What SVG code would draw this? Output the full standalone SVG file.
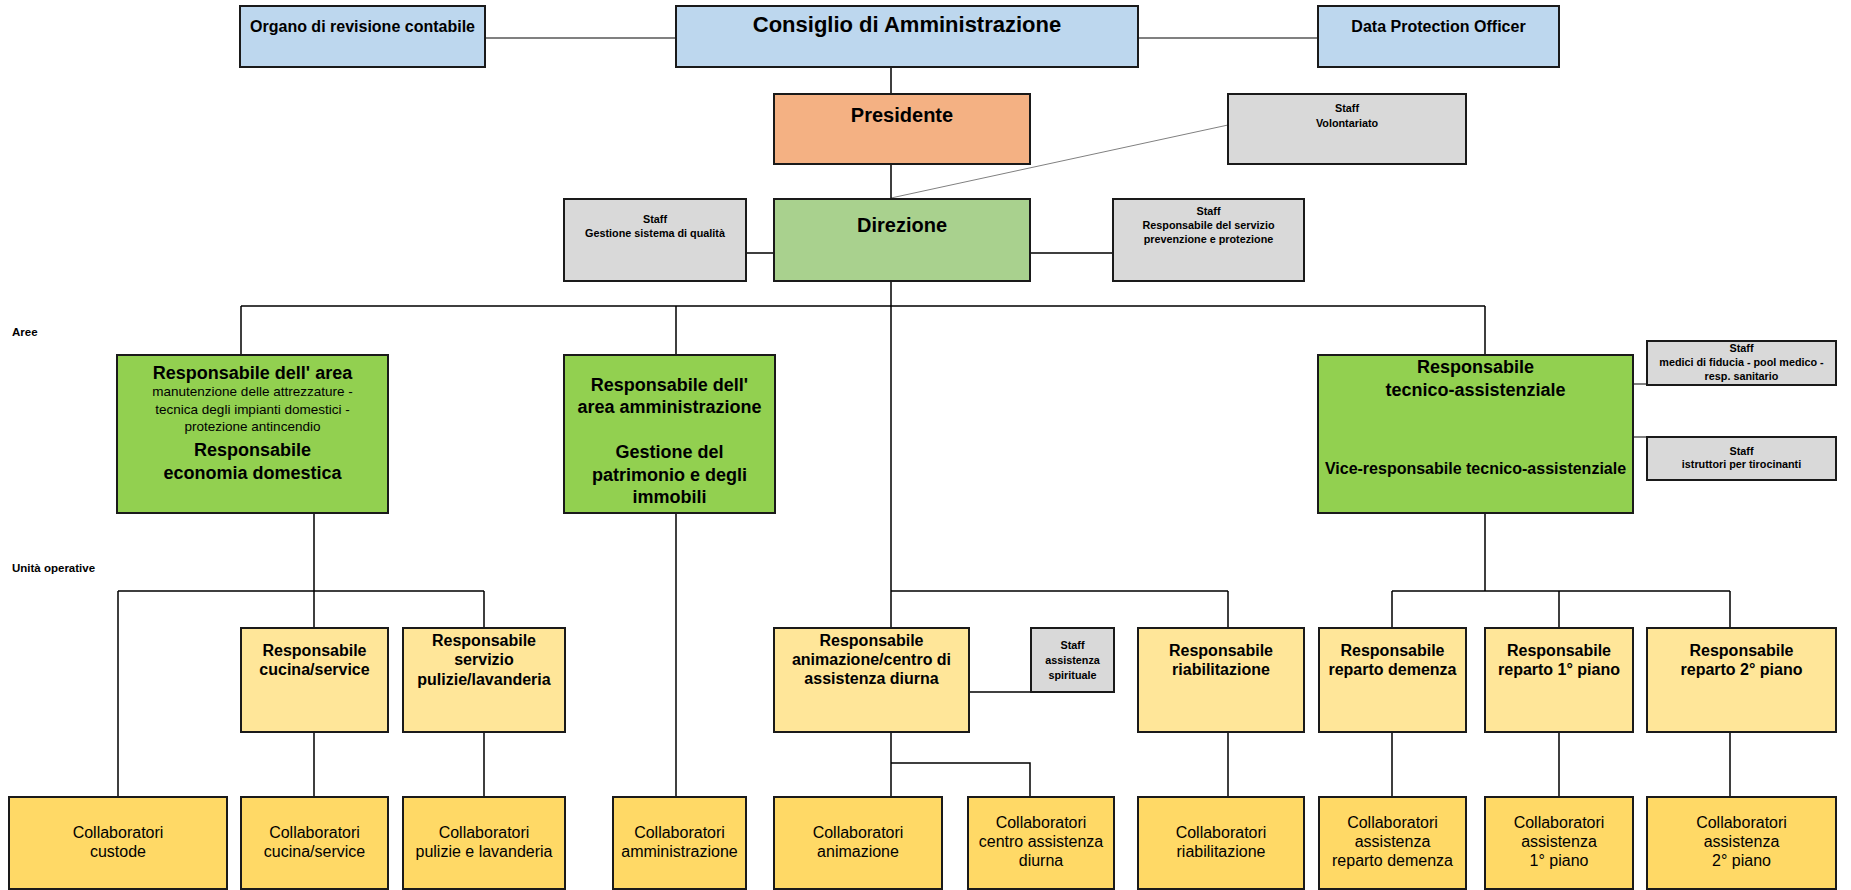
<svg xmlns="http://www.w3.org/2000/svg" width="1851" height="890" viewBox="0 0 1851 890">
<style>
text{font-family:"Liberation Sans",Arial,sans-serif;fill:#000;text-anchor:middle}
.b{font-weight:bold}
.box{stroke:#1a1a1a;stroke-width:2}
.blue{fill:#BDD7EE}.peach{fill:#F4B183}.lgreen{fill:#A9D18E}.green{fill:#92D050}.gray{fill:#D9D9D9}.ly{fill:#FFE699}.y{fill:#FFD966}
.ln{stroke:#000;stroke-width:1.5;fill:none}
.gl{stroke:#808080;stroke-width:2;fill:none}
.tl{stroke:#808080;stroke-width:1;fill:none}
.t22{font-size:22px}.t20{font-size:20px}.t18{font-size:18px}.t16{font-size:16px}.t13{font-size:13.5px}.t11{font-size:10.8px}
.lab{font-size:11.5px;font-weight:bold;text-anchor:start}
</style>
<rect width="1851" height="890" fill="#fff"/>
<g id="connectors">
<path class="gl" d="M485 38H676M1138 38H1318"/>
<path class="tl" d="M891 198L1228 125"/>
<path class="ln" d="M891 67V94M891 164V199M746 253H774M1030 253H1113M891 281V628"/>
<path class="ln" d="M241 306H1485M241 306V355M676 306V355M1485 306V355"/>
<path class="gl" d="M1633 384H1647M1633 437H1647"/>
<path class="ln" d="M314 513V591M118 591H484M118 591V797M314 591V628M484 591V628"/>
<path class="ln" d="M676 513V797"/>
<path class="ln" d="M891 591H1228M1228 591V628"/>
<path class="ln" d="M1485 513V591M1392 591H1730M1392 591V628M1559 591V628M1730 591V628"/>
<path class="ln" d="M969 692H1031"/>
<path class="ln" d="M314 732V797M484 732V797M891 732V797M891 763H1030V797M1228 732V797M1392 732V797M1559 732V797M1730 732V797"/>
</g>
<g id="labels">
<text class="lab" x="12" y="336">Aree</text>
<text class="lab" x="12" y="572">Unità operative</text>
</g>
<g id="organo"><rect class="box blue" x="240" y="6" width="245" height="61"/><text class="b t16" x="362.5" y="32">Organo di revisione contabile</text></g>
<g id="consiglio"><rect class="box blue" x="676" y="6" width="462" height="61"/><text class="b t22" x="907" y="32">Consiglio di Amministrazione</text></g>
<g id="dpo"><rect class="box blue" x="1318" y="6" width="241" height="61"/><text class="b t16" x="1438.5" y="32">Data Protection Officer</text></g>
<g id="presidente"><rect class="box peach" x="774" y="94" width="256" height="70"/><text class="b t20" x="902" y="122">Presidente</text></g>
<g id="volontariato"><rect class="box gray" x="1228" y="94" width="238" height="70"/><text class="b t11" x="1347" y="112">Staff</text><text class="b t11" x="1347" y="127">Volontariato</text></g>
<g id="direzione"><rect class="box lgreen" x="774" y="199" width="256" height="82"/><text class="b t20" x="902" y="232">Direzione</text></g>
<g id="qualita"><rect class="box gray" x="564" y="199" width="182" height="82"/><text class="b t11" x="655" y="223">Staff</text><text class="b t11" x="655" y="237">Gestione sistema di qualità</text></g>
<g id="rspp"><rect class="box gray" x="1113" y="199" width="191" height="82"/><text class="b t11" x="1208.5" y="215">Staff</text><text class="b t11" x="1208.5" y="229">Responsabile del servizio</text><text class="b t11" x="1208.5" y="243">prevenzione e protezione</text></g>
<g id="area-economia"><rect class="box green" x="117" y="355" width="271" height="158"/>
<text class="b t18" x="252.5" y="379">Responsabile dell' area</text>
<text class="t13" x="252.5" y="396">manutenzione delle attrezzature -</text>
<text class="t13" x="252.5" y="413.5">tecnica degli impianti domestici -</text>
<text class="t13" x="252.5" y="431">protezione antincendio</text>
<text class="b t18" x="252.5" y="456">Responsabile</text>
<text class="b t18" x="252.5" y="479">economia domestica</text></g>
<g id="area-amministrazione"><rect class="box green" x="564" y="355" width="211" height="158"/>
<text class="b t18" x="669.5" y="391">Responsabile dell'</text>
<text class="b t18" x="669.5" y="413">area amministrazione</text>
<text class="b t18" x="669.5" y="458">Gestione del</text>
<text class="b t18" x="669.5" y="481">patrimonio e degli</text>
<text class="b t18" x="669.5" y="503">immobili</text></g>
<g id="area-tecnico"><rect class="box green" x="1318" y="355" width="315" height="158"/>
<text class="b t18" x="1475.5" y="373">Responsabile</text>
<text class="b t18" x="1475.5" y="396">tecnico-assistenziale</text>
<text class="b t16" x="1475.5" y="474">Vice-responsabile tecnico-assistenziale</text></g>
<g id="medici"><rect class="box gray" x="1647" y="341" width="189" height="44"/><text class="b t11" x="1741.5" y="352">Staff</text><text class="b t11" x="1741.5" y="366">medici di fiducia - pool medico -</text><text class="b t11" x="1741.5" y="380">resp. sanitario</text></g>
<g id="istruttori"><rect class="box gray" x="1647" y="437" width="189" height="43"/><text class="b t11" x="1741.5" y="455">Staff</text><text class="b t11" x="1741.5" y="468">istruttori per tirocinanti</text></g>
<g id="resp-cucina"><rect class="box ly" x="241" y="628" width="147" height="104"/><text class="b t16" x="314.5" y="656">Responsabile</text><text class="b t16" x="314.5" y="675">cucina/service</text></g>
<g id="resp-pulizie"><rect class="box ly" x="403" y="628" width="162" height="104"/><text class="b t16" x="484" y="646">Responsabile</text><text class="b t16" x="484" y="665">servizio</text><text class="b t16" x="484" y="685">pulizie/lavanderia</text></g>
<g id="resp-animazione"><rect class="box ly" x="774" y="628" width="195" height="104"/><text class="b t16" x="871.5" y="646">Responsabile</text><text class="b t16" x="871.5" y="665">animazione/centro di</text><text class="b t16" x="871.5" y="684">assistenza diurna</text></g>
<g id="spirituale"><rect class="box gray" x="1031" y="628" width="83" height="64"/><text class="b t11" x="1072.5" y="649">Staff</text><text class="b t11" x="1072.5" y="664">assistenza</text><text class="b t11" x="1072.5" y="679">spirituale</text></g>
<g id="resp-riabilitazione"><rect class="box ly" x="1138" y="628" width="166" height="104"/><text class="b t16" x="1221" y="656">Responsabile</text><text class="b t16" x="1221" y="675">riabilitazione</text></g>
<g id="resp-demenza"><rect class="box ly" x="1319" y="628" width="147" height="104"/><text class="b t16" x="1392.5" y="656">Responsabile</text><text class="b t16" x="1392.5" y="675">reparto demenza</text></g>
<g id="resp-piano1"><rect class="box ly" x="1485" y="628" width="148" height="104"/><text class="b t16" x="1559" y="656">Responsabile</text><text class="b t16" x="1559" y="675">reparto 1° piano</text></g>
<g id="resp-piano2"><rect class="box ly" x="1647" y="628" width="189" height="104"/><text class="b t16" x="1741.5" y="656">Responsabile</text><text class="b t16" x="1741.5" y="675">reparto 2° piano</text></g>
<g id="col-custode"><rect class="box y" x="9" y="797" width="218" height="92"/><text class="t16" x="118" y="838">Collaboratori</text><text class="t16" x="118" y="857">custode</text></g>
<g id="col-cucina"><rect class="box y" x="241" y="797" width="147" height="92"/><text class="t16" x="314.5" y="838">Collaboratori</text><text class="t16" x="314.5" y="857">cucina/service</text></g>
<g id="col-pulizie"><rect class="box y" x="403" y="797" width="162" height="92"/><text class="t16" x="484" y="838">Collaboratori</text><text class="t16" x="484" y="857">pulizie e lavanderia</text></g>
<g id="col-amministrazione"><rect class="box y" x="613" y="797" width="133" height="92"/><text class="t16" x="679.5" y="838">Collaboratori</text><text class="t16" x="679.5" y="857">amministrazione</text></g>
<g id="col-animazione"><rect class="box y" x="774" y="797" width="168" height="92"/><text class="t16" x="858" y="838">Collaboratori</text><text class="t16" x="858" y="857">animazione</text></g>
<g id="col-centro"><rect class="box y" x="968" y="797" width="146" height="92"/><text class="t16" x="1041" y="828">Collaboratori</text><text class="t16" x="1041" y="847">centro assistenza</text><text class="t16" x="1041" y="866">diurna</text></g>
<g id="col-riabilitazione"><rect class="box y" x="1138" y="797" width="166" height="92"/><text class="t16" x="1221" y="838">Collaboratori</text><text class="t16" x="1221" y="857">riabilitazione</text></g>
<g id="col-demenza"><rect class="box y" x="1319" y="797" width="147" height="92"/><text class="t16" x="1392.5" y="828">Collaboratori</text><text class="t16" x="1392.5" y="847">assistenza</text><text class="t16" x="1392.5" y="866">reparto demenza</text></g>
<g id="col-piano1"><rect class="box y" x="1485" y="797" width="148" height="92"/><text class="t16" x="1559" y="828">Collaboratori</text><text class="t16" x="1559" y="847">assistenza</text><text class="t16" x="1559" y="866">1° piano</text></g>
<g id="col-piano2"><rect class="box y" x="1647" y="797" width="189" height="92"/><text class="t16" x="1741.5" y="828">Collaboratori</text><text class="t16" x="1741.5" y="847">assistenza</text><text class="t16" x="1741.5" y="866">2° piano</text></g>
</svg>
